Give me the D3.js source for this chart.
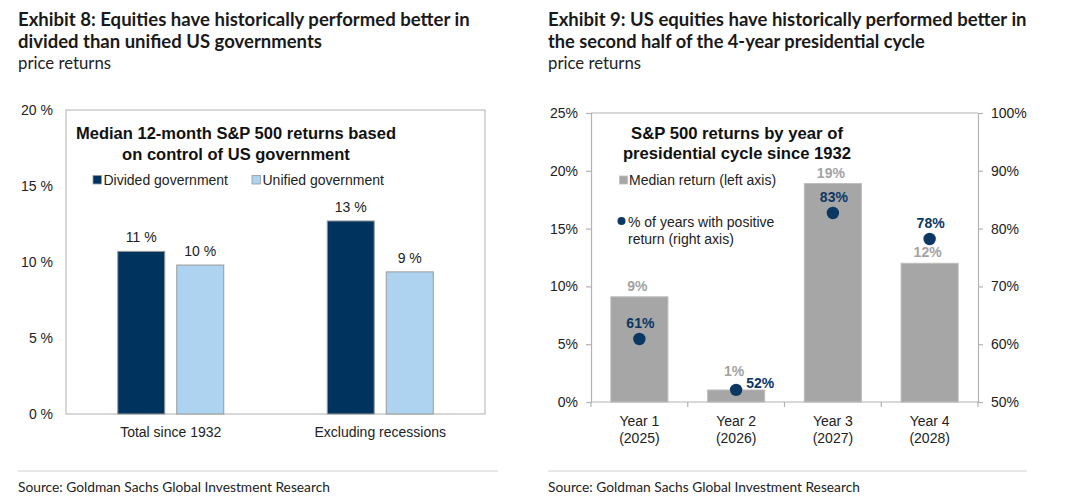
<!DOCTYPE html>
<html><head><meta charset="utf-8">
<script src="https://cdn.jsdelivr.net/npm/d3@7"></script>
<style>
body{margin:0;background:#fff;}
svg{display:block;}
</style></head>
<body>
<svg id="c" width="1080" height="504"></svg>
<script>
// ---------- DATA ----------
const govCategories = ["Total since 1932", "Excluding recessions"];
const govSeries = ["Divided government", "Unified government"];
const dividedValues = [10.7, 12.7];
const unifiedValues = [9.8, 9.35];
const govTicks = [0, 5, 10, 15, 20];

const cycleYears = ["Year 1", "Year 2", "Year 3", "Year 4"];
const cycleDates = ["(2025)", "(2026)", "(2027)", "(2028)"];
const medianReturn = [9.1, 1.04, 18.9, 12.0];
const positiveShare = [60.9, 52.1, 82.7, 78.2];
const leftTicks = [0, 5, 10, 15, 20, 25];
const rightTicks = [50, 60, 70, 80, 90, 100];

const headFont = "Lato, 'Open Sans', sans-serif";
const chartFont = "'Liberation Sans', Arial, sans-serif";
const navy = "#00345f", lightBlue = "#aed3f0", grey = "#a6a6a6", dotNavy = "#0b3763";

const svg = d3.select("#c");

function fitText(sel, w) {
  const n = sel.node();
  const fs = parseFloat(sel.attr("font-size"));
  const cw = n.getComputedTextLength();
  if (cw > 0) sel.attr("font-size", (fs * w / cw).toFixed(2));
  return sel;
}
function addText(g, x, y, txt, opts) {
  const t = g.append("text").attr("x", x).attr("y", y).text(txt)
    .attr("font-family", opts.font || chartFont)
    .attr("font-size", opts.size || 14)
    .attr("font-weight", opts.weight || "normal")
    .attr("fill", opts.fill || "#222")
    .attr("text-anchor", opts.anchor || "start")
    .attr("dominant-baseline", "central");
  if (opts.fit) fitText(t, opts.fit);
  return t;
}

// ---------- Headers & sources ----------
function header(x, l1, w1, l2, w2, lineEnd) {
  const g = svg.append("g");
  addText(g, x, 19, l1, {font: headFont, size: 17, weight: 700, fill: "#1a1a1a", fit: w1});
  addText(g, x, 41, l2, {font: headFont, size: 17, weight: 700, fill: "#1a1a1a", fit: w2});
  addText(g, x, 62, "price returns", {font: headFont, size: 16, fill: "#222", fit: 93});
  g.append("line").attr("x1", x).attr("x2", lineEnd).attr("y1", 471).attr("y2", 471)
    .attr("stroke", "#cfcfcf").attr("stroke-width", 1.2);
  addText(g, x, 486, "Source: Goldman Sachs Global Investment Research",
    {font: headFont, size: 13, fill: "#222", fit: 312});
}
header(18, "Exhibit 8: Equities have historically performed better in", 452,
  "divided than unified US governments", 304, 498);
header(548, "Exhibit 9: US equities have historically performed better in", 479,
  "the second half of the 4-year presidential cycle", 377, 1027);

// ---------- Chart 1 ----------
(function () {
  const L = 66, R = 485, T = 110, B = 414;
  const g = svg.append("g");
  const y = d3.scaleLinear().domain([0, 20]).range([B, T]);
  const x0 = d3.scaleBand().domain(govCategories).range([L, R]);
  const x1 = d3.scaleBand().domain(govSeries).range([-53, 53]).paddingInner(12 / 59);
  const color = d3.scaleOrdinal().domain(govSeries).range([navy, lightBlue]);

  g.append("rect").attr("x", L).attr("y", T).attr("width", R - L).attr("height", B - T)
    .attr("fill", "none").attr("stroke", "#bdbdbd").attr("stroke-width", 1.2);

  const ax = g.append("g").attr("transform", `translate(${L - 13},0)`)
    .call(d3.axisLeft(y).tickValues(govTicks).tickSize(0).tickPadding(0).tickFormat(d => d + " %"));
  ax.select(".domain").remove();
  ax.selectAll("text").attr("font-family", chartFont).attr("font-size", 14).attr("fill", "#222");

  const rows = govCategories.map((c, i) => [
    {cat: c, s: govSeries[0], v: dividedValues[i]},
    {cat: c, s: govSeries[1], v: unifiedValues[i]}]).flat();

  g.selectAll(".bar").data(rows).join("rect")
    .attr("x", d => x0(d.cat) + x0.bandwidth() / 2 + x1(d.s))
    .attr("width", x1.bandwidth())
    .attr("y", d => y(d.v)).attr("height", d => B - y(d.v))
    .attr("fill", d => color(d.s)).attr("stroke", "#9a9a9a").attr("stroke-width", 1);

  rows.forEach(d => addText(g, x0(d.cat) + x0.bandwidth() / 2 + x1(d.s) + x1.bandwidth() / 2,
    y(d.v) - 14, d3.format(".0f")(d.v) + " %", {size: 14, anchor: "middle", fill: "#222"}));

  govCategories.forEach(c => addText(g, x0(c) + x0.bandwidth() / 2, 432, c,
    {size: 14, anchor: "middle", fill: "#222"}));

  addText(g, 236, 133, "Median 12-month S&P 500 returns based", {size: 16, weight: 700, anchor: "middle", fill: "#111", fit: 320});
  addText(g, 236, 154, "on control of US government", {size: 16, weight: 700, anchor: "middle", fill: "#111", fit: 228});

  const lx = [93, 252];
  govSeries.forEach((s, i) => {
    g.append("rect").attr("x", lx[i]).attr("y", 175.5).attr("width", 8.5).attr("height", 8.5)
      .attr("fill", color(s)).attr("stroke", "#9a9a9a").attr("stroke-width", 0.8);
    addText(g, lx[i] + 10.5, 180, s, {size: 14, fill: "#222"});
  });
})();

// ---------- Chart 2 ----------
(function () {
  const L = 591, R = 978, T = 113, B = 402;
  const g = svg.append("g");
  const yL = d3.scaleLinear().domain([0, 25]).range([B, T]);
  const yR = d3.scaleLinear().domain([50, 100]).range([B, T]);
  const x = d3.scaleBand().domain(cycleYears).range([L, R]).paddingInner(0.41).paddingOuter(0.205);
  const axisColor = "#b3b3b3";

  const aL = g.append("g").attr("transform", `translate(${L},0)`)
    .call(d3.axisLeft(yL).tickValues(leftTicks).tickSize(5).tickPadding(8).tickFormat(d => d + "%"));
  const aR = g.append("g").attr("transform", `translate(${R},0)`)
    .call(d3.axisRight(yR).tickValues(rightTicks).tickSize(5).tickPadding(8).tickFormat(d => d + "%"));
  [aL, aR].forEach(a => {
    a.select(".domain").attr("stroke", axisColor).attr("stroke-width", 1.2);
    a.selectAll(".tick line").attr("stroke", axisColor).attr("stroke-width", 1.2);
    a.selectAll("text").attr("font-family", chartFont).attr("font-size", 14).attr("fill", "#222");
  });
  g.append("line").attr("x1", L).attr("x2", R).attr("y1", T).attr("y2", T)
    .attr("stroke", axisColor).attr("stroke-width", 1.2);

  g.selectAll(".bar").data(cycleYears).join("rect")
    .attr("x", d => x(d)).attr("width", x.bandwidth())
    .attr("y", (d, i) => yL(medianReturn[i])).attr("height", (d, i) => B - yL(medianReturn[i]))
    .attr("fill", grey).attr("stroke", "#bdbdbd").attr("stroke-width", 1);

  g.append("line").attr("x1", L).attr("x2", R).attr("y1", B).attr("y2", B)
    .attr("stroke", axisColor).attr("stroke-width", 1.2);
  const sepX = d3.range(cycleYears.length + 1).map(i => L + i * (R - L) / cycleYears.length);
  g.selectAll(".xt").data(sepX).join("line")
    .attr("x1", d => d).attr("x2", d => d).attr("y1", B).attr("y2", B + 5)
    .attr("stroke", axisColor).attr("stroke-width", 1.2);

  cycleYears.forEach((c, i) => {
    const cx = x(c) + x.bandwidth() / 2;
    addText(g, cx, 421, c, {size: 14, anchor: "middle", fill: "#222"});
    addText(g, cx, 438, cycleDates[i], {size: 14, anchor: "middle", fill: "#222"});
    // bar value labels (the small Year-2 bar label is lifted above its dot)
    const off = i === 1 ? 19 : 11;
    addText(g, cx - 2, yL(medianReturn[i]) - off, d3.format(".0f")(medianReturn[i]) + "%",
      {size: 14, weight: 700, anchor: "middle", fill: "#a3a3a3"});
  });

  // dots
  g.selectAll(".dot").data(cycleYears).join("circle")
    .attr("cx", d => x(d) + x.bandwidth() / 2)
    .attr("cy", (d, i) => yR(positiveShare[i]))
    .attr("r", 6.2).attr("fill", dotNavy);

  cycleYears.forEach((c, i) => {
    const cx = x(c) + x.bandwidth() / 2, cy = yR(positiveShare[i]);
    const lbl = d3.format(".0f")(positiveShare[i]) + "%";
    if (i === 1) addText(g, cx + 10, cy - 7, lbl, {size: 14, weight: 700, fill: dotNavy});
    else addText(g, cx + 1, cy - 16, lbl, {size: 14, weight: 700, anchor: "middle", fill: dotNavy});
  });

  addText(g, 737, 133, "S&P 500 returns by year of", {size: 16, weight: 700, anchor: "middle", fill: "#111", fit: 212});
  addText(g, 737, 153, "presidential cycle since 1932", {size: 16, weight: 700, anchor: "middle", fill: "#111", fit: 228});

  g.append("rect").attr("x", 619.5).attr("y", 176).attr("width", 8).attr("height", 8)
    .attr("fill", grey).attr("stroke", "#bdbdbd").attr("stroke-width", 0.8);
  addText(g, 629, 180, "Median return (left axis)", {size: 14, fill: "#222"});
  g.append("circle").attr("cx", 621.5).attr("cy", 221).attr("r", 4).attr("fill", dotNavy);
  addText(g, 628, 222, "% of years with positive", {size: 14, fill: "#222"});
  addText(g, 628, 239, "return (right axis)", {size: 14, fill: "#222"});
})();
</script>
</body></html>
